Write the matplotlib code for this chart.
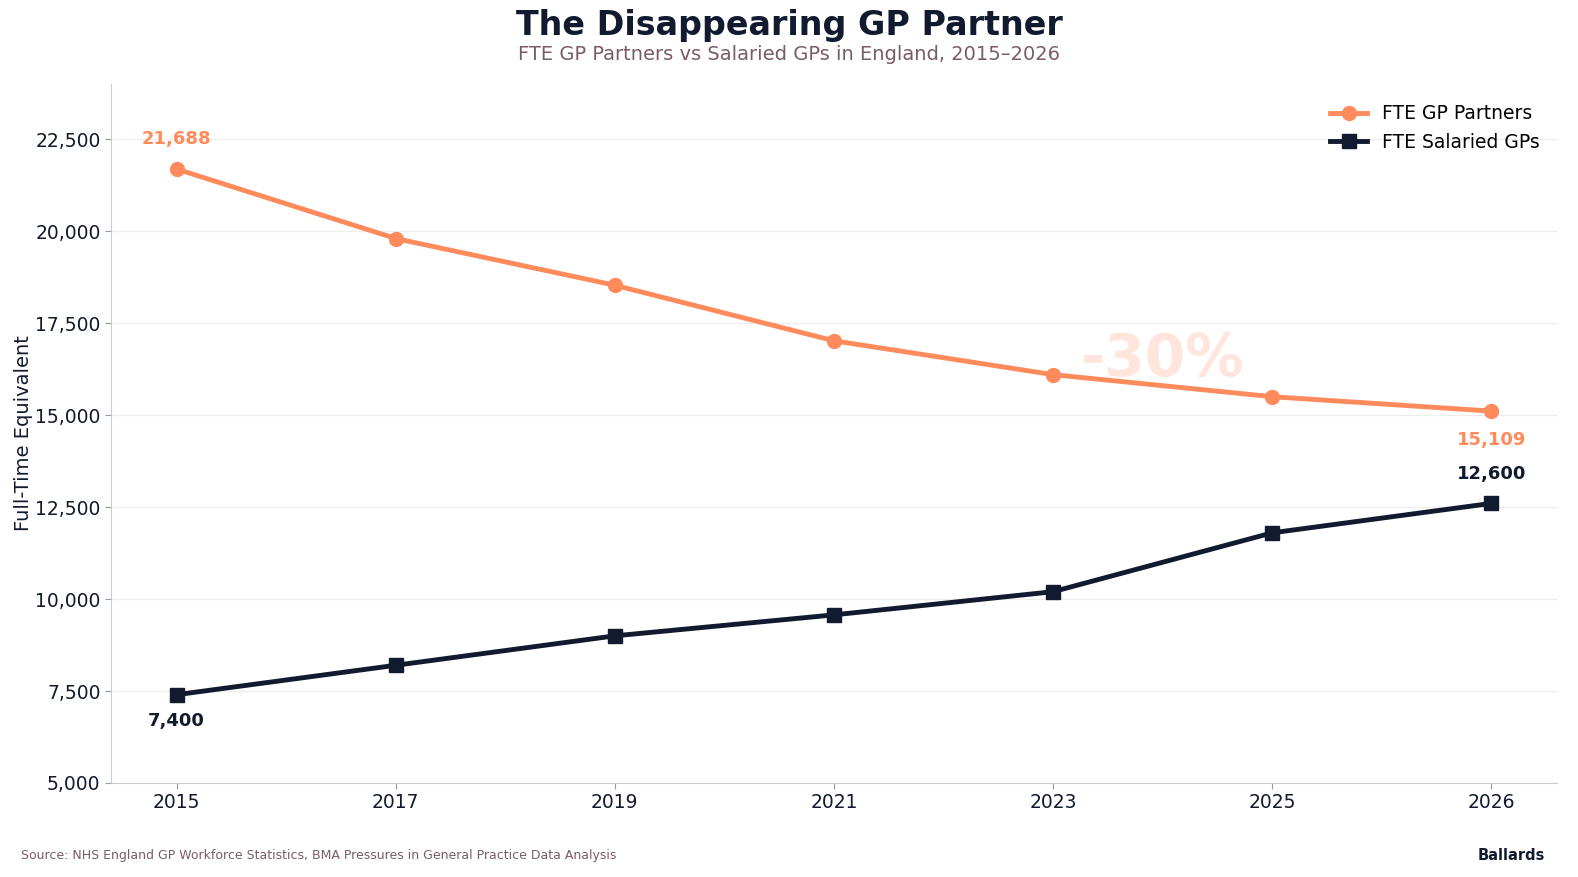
import numpy as np
import matplotlib.pyplot as plt
from matplotlib.ticker import FuncFormatter

years = ["2015", "2017", "2019", "2021", "2023", "2025", "2026"]
partners = [21688, 19800, 18530, 17020, 16100, 15500, 15109]
salaried = [7400, 8200, 9000, 9570, 10200, 11800, 12600]

ORANGE = "#FF8A5B"
NAVY = "#111A2E"
MUTED = "#7A5C66"

fig = plt.figure(figsize=(15.78, 8.77), dpi=100)
ax = fig.add_axes([0.0703, 0.1072, 0.9164, 0.797])

x = np.arange(len(years))
ax.plot(x, partners, color=ORANGE, lw=3.5, marker="o", ms=10, label="FTE GP Partners", zorder=3)
ax.plot(x, salaried, color=NAVY, lw=3.5, marker="s", ms=10, label="FTE Salaried GPs", zorder=3)

ax.set_xlim(-0.3, 6.3)
ax.set_ylim(5000, 24000)
ax.set_xticks(x)
ax.set_xticklabels(years)
ax.set_yticks(np.arange(5000, 22501, 2500))
ax.yaxis.set_major_formatter(FuncFormatter(lambda v, p: f"{v:,.0f}"))
ax.tick_params(labelsize=13.5, colors=NAVY, length=4)
ax.tick_params(axis="both", color="#999999")
ax.grid(axis="y", color="#eeeeee", lw=1)
ax.set_axisbelow(True)
for s in ["top", "right"]:
    ax.spines[s].set_visible(False)
for s in ["left", "bottom"]:
    ax.spines[s].set_color("#cccccc")
ax.set_ylabel("Full-Time Equivalent", fontsize=14, color=NAVY)
ax.yaxis.set_label_coords(-0.054, 0.5)

# end labels
ax.annotate(f"{partners[0]:,}", (x[0], partners[0]), xytext=(0, 22), textcoords="offset points",
            ha="center", va="center", fontsize=13, fontweight="bold", color=ORANGE)
ax.annotate(f"{partners[-1]:,}", (x[-1], partners[-1]), xytext=(0, -21), textcoords="offset points",
            ha="center", va="center", fontsize=13, fontweight="bold", color=ORANGE)
ax.annotate(f"{salaried[0]:,}", (x[0], salaried[0]), xytext=(0, -19), textcoords="offset points",
            ha="center", va="center", fontsize=13, fontweight="bold", color=NAVY)
ax.annotate(f"{salaried[-1]:,}", (x[-1], salaried[-1]), xytext=(0, 21), textcoords="offset points",
            ha="center", va="center", fontsize=13, fontweight="bold", color=NAVY)

pct = (partners[-1] - partners[0]) / partners[0] * 100
ax.text(4.5, 16500, f"{pct:.0f}%", fontsize=42, fontweight="bold", color=ORANGE, alpha=0.22,
        ha="center", va="center", zorder=1)

leg = ax.legend(loc="upper right", frameon=False, fontsize=13.5, bbox_to_anchor=(1.0, 0.995))

fig.text(0.5, 0.971, "The Disappearing GP Partner", ha="center", va="center",
         fontsize=24, fontweight="bold", color=NAVY)
fig.text(0.5, 0.938, "FTE GP Partners vs Salaried GPs in England, 2015–2026", ha="center", va="center",
         fontsize=14, color=MUTED)
fig.text(0.013, 0.025, "Source: NHS England GP Workforce Statistics, BMA Pressures in General Practice Data Analysis",
         ha="left", va="center", fontsize=9, color=MUTED)
fig.text(0.979, 0.025, "Ballards", ha="right", va="center", fontsize=10.5, fontweight="bold", color=NAVY)

fig.savefig("out.png", dpi=100)
